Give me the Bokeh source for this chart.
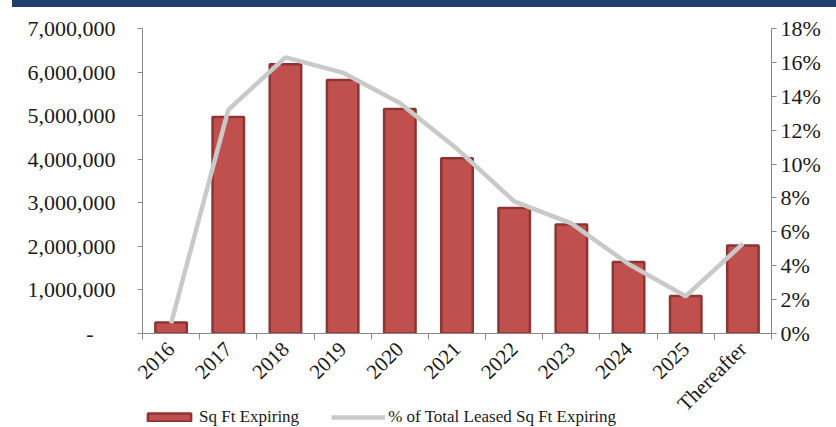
from bokeh.plotting import figure
from bokeh.models import (ColumnDataSource, Range1d, LinearAxis, FixedTicker,
                          NumeralTickFormatter, PrintfTickFormatter, Legend, LegendItem, Div)
from bokeh.layouts import column
from bokeh.embed import file_html
from bokeh.resources import INLINE
import math

categories = ["2016", "2017", "2018", "2019", "2020", "2021", "2022", "2023", "2024", "2025", "Thereafter"]
sqft_expiring = [250000, 4970000, 6180000, 5820000, 5150000, 4020000, 2880000, 2500000, 1640000, 860000, 2020000]
pct_expiring = [0.6, 13.2, 16.3, 15.4, 13.6, 10.9, 7.8, 6.5, 4.1, 2.2, 5.3]
left_ticks = [0, 1000000, 2000000, 3000000, 4000000, 5000000, 6000000, 7000000]
right_ticks = [0, 2, 4, 6, 8, 10, 12, 14, 16, 18]

n = len(categories)
xs = [i + 0.5 for i in range(n)]
src = ColumnDataSource(dict(x=xs, cat=categories, sqft=sqft_expiring, pct=pct_expiring))

FONT = "Liberation Serif"
TXT = "#1a1a1a"
AX = "#8a8a8a"
BAR_STYLE = dict(fill_color="#C0504D", line_color="#8E3533", line_width=2.5)
LINE_STYLE = dict(line_color="#C9C9C9", line_width=4.5)

p = figure(width=836, height=420, output_backend="svg", toolbar_location=None,
           x_range=Range1d(0, n), y_range=Range1d(0, 7000000),
           min_border_left=142, min_border_right=65, min_border_top=21, min_border_bottom=10,
           x_axis_type=None, y_axis_type=None)
p.extra_y_ranges = {"pct": Range1d(0, 18)}
p.outline_line_color = None
p.grid.visible = False
p.background_fill_color = "white"
p.border_fill_color = "white"

bars = p.vbar(x="x", top="sqft", width=0.55, source=src, **BAR_STYLE)
line = p.line(x="x", y="pct", source=src, y_range_name="pct", **LINE_STYLE)

# x axis
xa = LinearAxis(ticker=FixedTicker(ticks=xs, minor_ticks=list(range(n + 1))))
xa.major_label_overrides = {x: c for x, c in zip(xs, categories)}
xa.major_label_orientation = math.pi / 4
xa.major_tick_line_color = None
xa.minor_tick_line_color = AX
xa.minor_tick_out = 6
xa.minor_tick_in = 0
xa.axis_line_color = AX
xa.major_label_text_font = FONT
xa.major_label_text_font_size = "21px"
xa.major_label_text_color = TXT
xa.major_label_standoff = 6
p.add_layout(xa, "below")

# left axis
ya = LinearAxis(ticker=FixedTicker(ticks=left_ticks, minor_ticks=[]),
                formatter=NumeralTickFormatter(format="0,0"))
ya.major_label_overrides = {0: "-    "}
ya.axis_line_color = AX
ya.major_tick_line_color = AX
ya.major_tick_out = 5
ya.major_tick_in = 0
ya.minor_tick_line_color = None
ya.major_label_text_font = FONT
ya.major_label_text_font_size = "22px"
ya.major_label_text_color = TXT
ya.major_label_standoff = 22
p.add_layout(ya, "left")

# right axis
ra = LinearAxis(y_range_name="pct", ticker=FixedTicker(ticks=right_ticks, minor_ticks=[]),
                formatter=PrintfTickFormatter(format="%d%%"))
ra.axis_line_color = AX
ra.major_tick_line_color = AX
ra.major_tick_out = 5
ra.major_tick_in = 0
ra.minor_tick_line_color = None
ra.major_label_text_font = FONT
ra.major_label_text_font_size = "22px"
ra.major_label_text_color = TXT
ra.major_label_standoff = 4
p.add_layout(ra, "right")

# legend strip: a transparent figure drawn over the bottom of the chart;
# its renderers share the chart's data and style but are hidden, only the legend shows
pl = figure(width=836, height=22, output_backend="svg", toolbar_location=None,
            x_range=Range1d(0, n), y_range=Range1d(0, 7000000),
            min_border_left=0, min_border_right=0, min_border_top=0, min_border_bottom=0,
            x_axis_type=None, y_axis_type=None, margin=(-22, 0, 0, 0))
pl.outline_line_color = None
pl.grid.visible = False
pl.background_fill_alpha = 0
pl.border_fill_alpha = 0
lb = pl.vbar(x="x", top="sqft", width=0.55, source=src, **BAR_STYLE)
ll = pl.line(x="x", y="pct", source=src, **LINE_STYLE)
lb.visible = False
ll.visible = False
legend = Legend(items=[LegendItem(label="Sq Ft Expiring", renderers=[lb]),
                       LegendItem(label="% of Total Leased Sq Ft Expiring", renderers=[ll])],
                orientation="horizontal", location=(0, 0),
                label_text_font="'Liberation Serif', serif", label_text_font_size="17px",
                label_text_color=TXT,
                border_line_color=None, background_fill_alpha=0,
                inactive_fill_alpha=0,
                padding=0, margin=0, spacing=32, glyph_width=54, glyph_height=10,
                label_height=18, label_standoff=3)
pl.add_layout(legend, "center")

band = Div(text="", width=824, height=7, margin=(0, 0, 0, 12),
           styles={"background-color": "#1F3F6E", "width": "824px", "height": "7px"})

layout = column(band, p, pl, spacing=0)
open("out.html", "w").write(file_html(layout, INLINE))
